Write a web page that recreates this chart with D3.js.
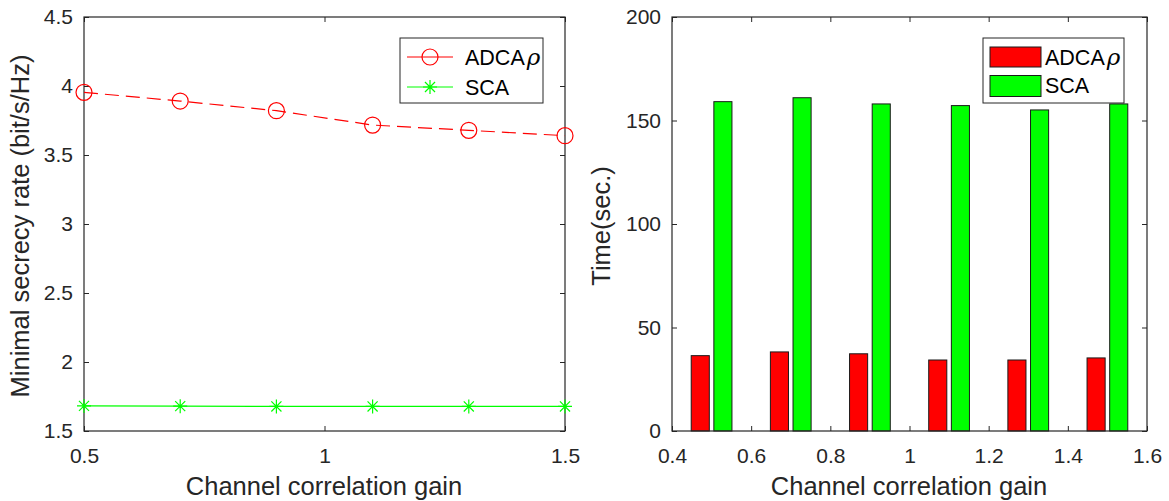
<!DOCTYPE html>
<html><head><meta charset="utf-8">
<script src="https://cdn.jsdelivr.net/npm/d3@7"></script>
<style>
html,body{margin:0;padding:0;background:#fff;}
svg{display:block;font-family:"Liberation Sans",Arial,Helvetica,sans-serif;}
</style></head>
<body><div id="chart"></div>
<script>
// ---- data ----
const gains = [0.5, 0.7, 0.9, 1.1, 1.3, 1.5];
const rateADCA = [3.954, 3.891, 3.821, 3.717, 3.679, 3.640];
const rateSCA = [1.682, 1.680, 1.678, 1.678, 1.678, 1.678];
const timeADCA = [36.4, 38.2, 37.3, 34.3, 34.3, 35.3];
const timeSCA = [159.1, 161.0, 158.0, 157.2, 155.1, 158.0];
const seriesNames = ["ADCA", "SCA"];
const leftYTicks = [1.5, 2, 2.5, 3, 3.5, 4, 4.5];
const leftXTicks = [0.5, 1, 1.5];
const rightYTicks = [0, 50, 100, 150, 200];
const rightXTicks = [0.4, 0.6, 0.8, 1, 1.2, 1.4, 1.6];
const xLabel = "Channel correlation gain";
const leftYLabel = "Minimal secrecy rate (bit/s/Hz)";
const rightYLabel = "Time(sec.)";

const W = 1169, H = 501;
const TXT = "#262626";
const svg = d3.select("#chart").append("svg").attr("width", W).attr("height", H);

const xL = d3.scaleLinear().domain([0.5, 1.5]).range([84, 565]);
const yL = d3.scaleLinear().domain([1.5, 4.5]).range([431, 17]);
const xR = d3.scaleLinear().domain([0.4, 1.6]).range([672, 1147]);
const yR = d3.scaleLinear().domain([0, 200]).range([431, 17]);

function fmt(d){ return String(d); }

function drawAxes(x, y, xt, yt){
  const [x0, x1] = x.range(); const [y0, y1] = y.range();
  const g = svg.append("g");
  const st = sel => {
    sel.select(".domain").remove();
    sel.selectAll("line").attr("stroke", TXT).attr("stroke-width", 1);
    sel.selectAll("text").attr("fill", TXT).attr("font-size", 21)
       .attr("font-family", '"Liberation Sans",Arial,Helvetica,sans-serif');
  };
  g.append("g").attr("transform", `translate(0,${y0})`)
    .call(d3.axisBottom(x).tickValues(xt).tickFormat(fmt).tickSizeInner(-5).tickSizeOuter(0).tickPadding(17)).call(st);
  g.append("g").attr("transform", `translate(0,${y1})`)
    .call(d3.axisTop(x).tickValues(xt).tickFormat("").tickSizeInner(-5).tickSizeOuter(0)).call(st);
  g.append("g").attr("transform", `translate(${x0},0)`)
    .call(d3.axisLeft(y).tickValues(yt).tickFormat(fmt).tickSizeInner(-5).tickSizeOuter(0).tickPadding(11)).call(st);
  g.append("g").attr("transform", `translate(${x1},0)`)
    .call(d3.axisRight(y).tickValues(yt).tickFormat("").tickSizeInner(-5).tickSizeOuter(0)).call(st);
  g.append("rect").attr("x", x0).attr("y", y1).attr("width", x1 - x0).attr("height", y0 - y1)
    .attr("fill", "none").attr("stroke", TXT).attr("stroke-width", 1.2);
  return g;
}

// ---------- Left chart ----------
drawAxes(xL, yL, leftXTicks, leftYTicks);
const lineL = (vals) => d3.line().x((d, i) => xL(gains[i])).y(d => yL(d))(vals);

svg.append("path").attr("d", lineL(rateSCA)).attr("fill", "none")
  .attr("stroke", "#00ff00").attr("stroke-width", 1.2);
svg.append("path").attr("d", lineL(rateADCA)).attr("fill", "none")
  .attr("stroke", "#ff0000").attr("stroke-width", 1.2).attr("stroke-dasharray", "14,7");

function star(g, cx, cy, r, col){
  const d = r * 0.72;
  g.append("path").attr("d",
    `M${cx - r},${cy}H${cx + r}M${cx},${cy - r}V${cy + r}M${cx - d},${cy - d}L${cx + d},${cy + d}M${cx - d},${cy + d}L${cx + d},${cy - d}`)
    .attr("stroke", col).attr("stroke-width", 1.2).attr("fill", "none");
}
const mk = svg.append("g");
rateADCA.forEach((v, i) => {
  mk.append("circle").attr("cx", xL(gains[i])).attr("cy", yL(v)).attr("r", 8)
    .attr("fill", "none").attr("stroke", "#ff0000").attr("stroke-width", 1.2);
});
rateSCA.forEach((v, i) => star(mk, xL(gains[i]), yL(v), 7, "#00ff00"));

// left legend
const lg = svg.append("g");
lg.append("rect").attr("x", 400).attr("y", 38).attr("width", 143).attr("height", 65)
  .attr("fill", "#fff").attr("stroke", TXT).attr("stroke-width", 1);
lg.append("line").attr("x1", 407).attr("x2", 453).attr("y1", 57).attr("y2", 57).attr("stroke", "#ff0000").attr("stroke-width", 1.2);
lg.append("circle").attr("cx", 430).attr("cy", 57).attr("r", 8).attr("fill", "none").attr("stroke", "#ff0000").attr("stroke-width", 1.2);
lg.append("line").attr("x1", 407).attr("x2", 453).attr("y1", 87).attr("y2", 87).attr("stroke", "#00ff00").attr("stroke-width", 1.2);
star(lg, 430, 87, 7, "#00ff00");
function legText(g, x, y, name, rho){
  const t = g.append("text").attr("x", x).attr("y", y).attr("font-size", 21.5).attr("fill", "#000");
  t.append("tspan").text(name);
  if (rho) t.append("tspan").attr("dx", 2).attr("font-style", "italic").attr("font-family", '"DejaVu Serif",serif').attr("font-size", 23).text("ρ");
}
legText(lg, 465, 65, seriesNames[0], true);
legText(lg, 465, 95, seriesNames[1], false);

// ---------- Right chart ----------
const off = 0.0286, bw = 0.0457;
const bars = svg.append("g");
timeADCA.forEach((v, i) => {
  bars.append("rect").attr("x", xR(gains[i] - off - bw / 2)).attr("width", xR(gains[i] - off + bw / 2) - xR(gains[i] - off - bw / 2))
    .attr("y", yR(v)).attr("height", yR(0) - yR(v)).attr("fill", "#ff0000").attr("stroke", "#1a1a1a").attr("stroke-width", 1);
});
timeSCA.forEach((v, i) => {
  bars.append("rect").attr("x", xR(gains[i] + off - bw / 2)).attr("width", xR(gains[i] + off + bw / 2) - xR(gains[i] + off - bw / 2))
    .attr("y", yR(v)).attr("height", yR(0) - yR(v)).attr("fill", "#00ff00").attr("stroke", "#1a1a1a").attr("stroke-width", 1);
});
drawAxes(xR, yR, rightXTicks, rightYTicks);

const rg = svg.append("g");
rg.append("rect").attr("x", 983).attr("y", 38).attr("width", 141).attr("height", 65)
  .attr("fill", "#fff").attr("stroke", TXT).attr("stroke-width", 1);
rg.append("rect").attr("x", 990).attr("y", 47).attr("width", 51).attr("height", 20)
  .attr("fill", "#ff0000").attr("stroke", "#1a1a1a").attr("stroke-width", 1);
rg.append("rect").attr("x", 990).attr("y", 75.5).attr("width", 51).attr("height", 21)
  .attr("fill", "#00ff00").attr("stroke", "#1a1a1a").attr("stroke-width", 1);
legText(rg, 1045, 65, seriesNames[0], true);
legText(rg, 1045, 93, seriesNames[1], false);

// ---------- axis labels ----------
const lab = svg.append("g").attr("fill", TXT).attr("font-size", 25.5);
lab.append("text").attr("x", 324).attr("y", 495).attr("text-anchor", "middle").text(xLabel);
lab.append("text").attr("x", 909).attr("y", 495).attr("text-anchor", "middle").text(xLabel);
lab.append("text").attr("transform", "translate(29,226) rotate(-90)").attr("text-anchor", "middle").text(leftYLabel);
lab.append("text").attr("transform", "translate(610,226) rotate(-90)").attr("text-anchor", "middle").text(rightYLabel);
</script>
</body></html>
